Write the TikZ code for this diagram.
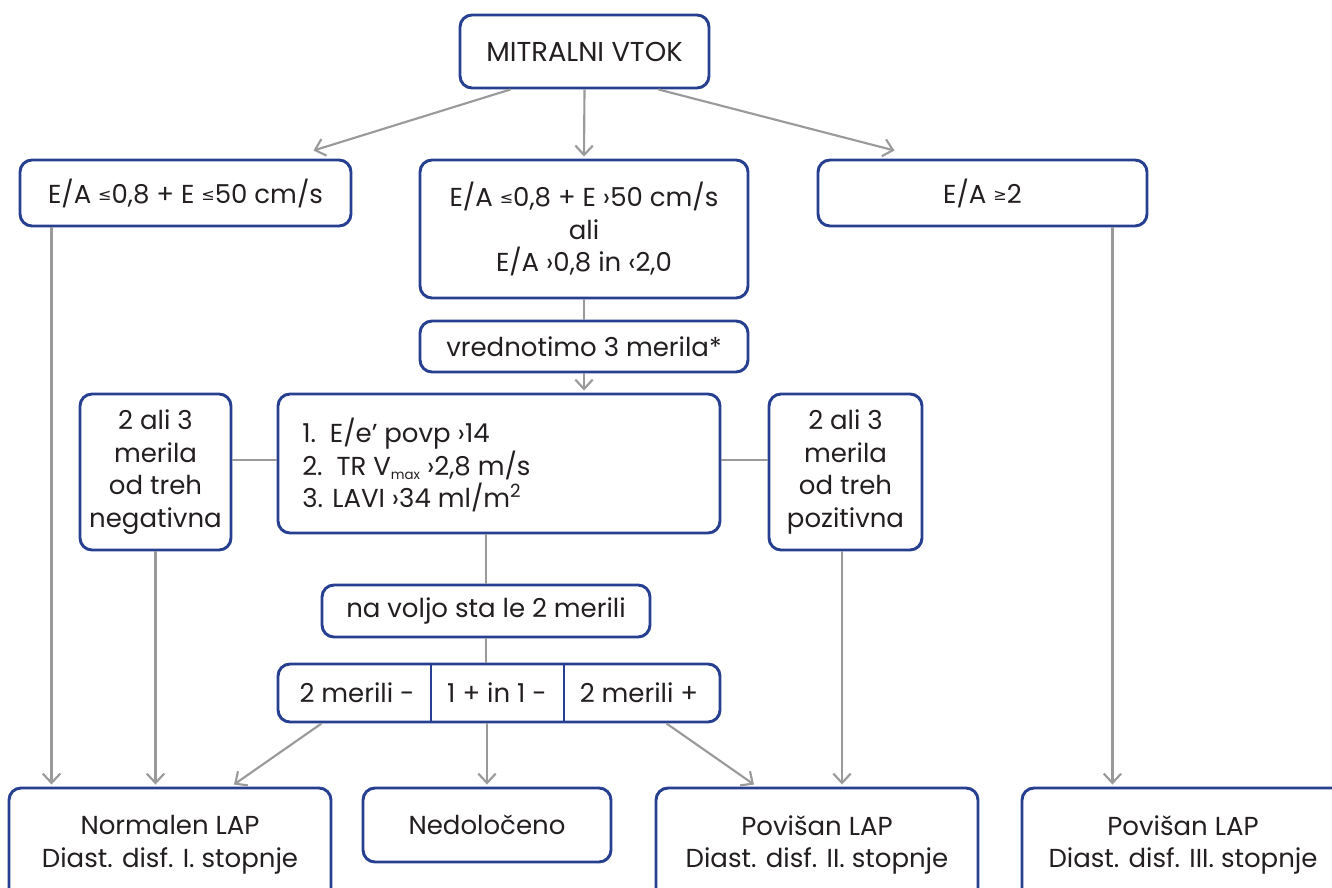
\documentclass[tikz,border=0pt]{standalone}
\usepackage{fontspec}
\setmainfont{Poppins}
\newfontfamily\symfont{DejaVu Sans}
\usetikzlibrary{arrows.meta}
\definecolor{boxblue}{HTML}{263F91}
\definecolor{linegray}{HTML}{9A9A9A}
\definecolor{txt}{HTML}{231F20}
% small raised comparison signs
\newcommand\lesym{{\symfont\fontsize{12}{12}\selectfont\raisebox{2pt}{≤}}}
\newcommand\gesym{{\symfont\fontsize{12}{12}\selectfont\raisebox{2pt}{≥}}}
\begin{document}
\begin{tikzpicture}[x=0.75pt,y=-0.75pt,
  mainfont/.style={font=\fontsize{19.5}{24.5}\selectfont},
  box/.style={draw=boxblue,line width=2.2pt,rounded corners=9pt,fill=white,
    text=txt,inner sep=0pt,align=center,mainfont},
  label/.style={text=txt,inner sep=0pt,mainfont},
  con/.style={draw=linegray,line width=1.6pt},
  arr/.style={con,-{Straight Barb[length=7pt,width=13pt,line width=1.6pt]}}]
\useasboundingbox (0,0) rectangle (1332,888);
\clip (0,0) rectangle (1332,888);

% top level
\node[box,minimum width=249*0.75pt,minimum height=73*0.75pt,font=\fontsize{20.5}{24.5}\selectfont] (top) at (584.5,51.5) {MITRALNI VTOK};
\node[box,minimum width=331*0.75pt,minimum height=66*0.75pt] (A) at (185.5,193) {E/A \lesym0,8 + E \lesym50 cm/s};
\node[box,minimum width=328*0.75pt,minimum height=138*0.75pt] (B) at (584,229) {E/A \lesym0,8 + E ›50 cm/s\\ali\\E/A ›0,8 in ‹2,0};
\node[box,minimum width=329*0.75pt,minimum height=66*0.75pt] (C) at (982.5,193) {E/A \gesym2};

% criteria
\node[box,minimum width=328*0.75pt,minimum height=51*0.75pt] (vred) at (584,346.5) {vrednotimo 3 merila*};
\node[box,minimum width=442*0.75pt,minimum height=139*0.75pt] (list) at (499,463.5) {};
\node[label,anchor=west,align=left] (listtxt) at (302,465)
  {1.\ \ E/e' povp ›14\\2.\ \ TR V\raisebox{-3pt}{\fontsize{10}{10}\selectfont max} ›2,8 m/s\\3. LAVI ›34 ml/m\textsuperscript{2}};
\node[box,minimum width=151*0.75pt,minimum height=156*0.75pt] (neg) at (155.5,472) {2 ali 3\\merila\\od treh\\negativna};
\node[box,minimum width=153*0.75pt,minimum height=156*0.75pt] (pos) at (845.5,472) {2 ali 3\\merila\\od treh\\pozitivna};

% two criteria only
\node[box,minimum width=328*0.75pt,minimum height=52*0.75pt] (avail) at (486,611) {na voljo sta le 2 merili};
\node[box,minimum width=442*0.75pt,minimum height=58*0.75pt] (tri) at (499,693) {};
\node[label] (t1) at (357,693) {2 merili -};
\node[label] (t2) at (497,693) {1 + in 1 -};
\node[label] (t3) at (639,693) {2 merili +};
\draw[boxblue,line width=1.8pt] (tri.north -| 431,0) -- (tri.south -| 431,0);
\draw[boxblue,line width=1.8pt] (tri.north -| 564,0) -- (tri.south -| 564,0);

% outcomes
\node[box,minimum width=322*0.75pt,minimum height=120*0.75pt] (n1) at (170,848) {};
\node[label,align=center] at (170,845) {Normalen LAP\\Diast. disf. I. stopnje};
\node[box,minimum width=248*0.75pt,minimum height=74*0.75pt] (n2) at (487,825) {Nedoločeno};
\node[box,minimum width=322*0.75pt,minimum height=120*0.75pt] (n3) at (817,848) {};
\node[label,align=center] at (817,845) {Povišan LAP\\Diast. disf. II. stopnje};
\node[box,minimum width=322*0.75pt,minimum height=120*0.75pt] (n4) at (1183,848) {};
\node[label,align=center] at (1183,845) {Povišan LAP\\Diast. disf. III. stopnje};

% connectors from the top box
\draw[arr] ([shift={(-74,0)}]top.south) -- ([shift={(128,-8)}]A.north);
\draw[arr] (top.south) -- ([shift={(0,-2)}]B.north);
\draw[arr] ([shift={(74,0)}]top.south) -- ([shift={(-88,-8)}]C.north);

% middle column
\draw[con] (B.south) -- (vred.north);
\draw[arr] (vred.south) -- ([shift={(0,-2)}]vred.south |- list.north);
\draw[con] (neg.east |- 0,460) -- (list.west |- 0,460);
\draw[con] (list.east |- 0,460) -- (pos.west |- 0,460);
\draw[con] (avail.north |- list.south) -- (avail.north);
\draw[con] (avail.south) -- (avail.south |- tri.north);

% into the outcomes
\draw[arr] ([shift={(33,0)}]A.south west) -- ([shift={(33,-2)}]A.south west |- n1.north);
\draw[arr] (neg.south) -- ([shift={(0,-2)}]neg.south |- n1.north);
\draw[arr] ([shift={(45,0)}]tri.south west) -- ([shift={(64,-2)}]n1.north);
\draw[arr] (n2.north |- tri.south) -- ([shift={(0,-2)}]n2.north);
\draw[arr] ([shift={(-55,0)}]tri.south east) -- ([shift={(-63,-2)}]n3.north);
\draw[arr] ([shift={(-3.5,0)}]pos.south) -- ([shift={(-3.5,-2)}]pos.south |- n3.north);
\draw[arr] ([shift={(-36,0)}]C.south east) -- ([shift={(-36,-2)}]C.south east |- n4.north);
\end{tikzpicture}
\end{document}
